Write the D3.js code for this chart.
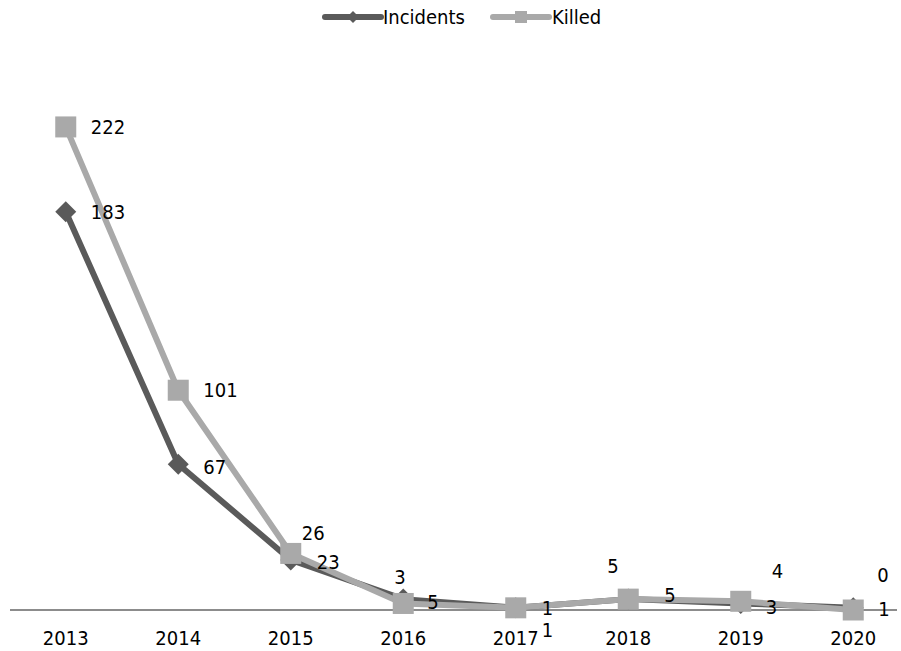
<!DOCTYPE html>
<html>
<head>
<meta charset="utf-8">
<script src="https://cdn.jsdelivr.net/npm/d3@7"></script>
<style>
  body { margin: 0; background: #fff; }
  text { font-family: "DejaVu Sans Condensed", "DejaVu Sans", sans-serif; fill: #000; }
</style>
</head>
<body>
<div id="chart"></div>
<script>
// data
var years = ["2013", "2014", "2015", "2016", "2017", "2018", "2019", "2020"];
var incidents = [183, 67, 23, 5, 1, 5, 3, 1];
var killed = [222, 101, 26, 3, 1, 5, 4, 0];

// label nudges (left edge offset from point), layout only
var incidentsLabelPos = [[25, 0], [25, 3], [26, 2], [24, 3], [26, 0], [36, -4], [25, 3], [25, 1]];
var killedLabelPos = [[25, 0], [25, 0], [11, -21], [-9, -27], [26, 22], [-21, -33], [31, -30], [24, -35]];

var svgWidth = 901;
var svgHeight = 651;

var svg = d3.select("#chart")
  .append("svg")
  .attr("width", svgWidth)
  .attr("height", svgHeight);

// scales
var xScale = d3.scaleBand()
  .domain(years)
  .range([9.5, 909.5])
  .padding(0);

var yScale = d3.scaleLinear()
  .domain([0, 250])
  .range([610, 66]);

var xc = d => xScale(d) + xScale.bandwidth() / 2;

// x axis line + labels
svg.append("line")
  .attr("x1", 10)
  .attr("x2", 897)
  .attr("y1", yScale(0))
  .attr("y2", yScale(0))
  .attr("stroke", "#8c8c8c")
  .attr("stroke-width", 2);

var xAxis = d3.axisBottom(xScale).tickSize(0).tickPadding(21);
var xAxisG = svg.append("g")
  .attr("transform", `translate(0, ${yScale(0)})`)
  .call(xAxis);
xAxisG.select(".domain").remove();
xAxisG.selectAll("text")
  .attr("font-size", 20)
  .style("font-family", "'DejaVu Sans Condensed', 'DejaVu Sans', sans-serif")
  .attr("fill", "#000");

var series = [
  { name: "Incidents", values: incidents, color: "#5a5a5a", shape: "diamond", pos: incidentsLabelPos },
  { name: "Killed", values: killed, color: "#a9a9a9", shape: "square", pos: killedLabelPos }
];

var line = d3.line()
  .x((d, i) => xc(years[i]))
  .y(d => yScale(d));

var diamond = s => `M0,${-s} L${s},0 L0,${s} L${-s},0 Z`;

series.forEach(function(s) {
  var g = svg.append("g");

  g.append("path")
    .datum(s.values)
    .attr("d", line)
    .attr("fill", "none")
    .attr("stroke", s.color)
    .attr("stroke-width", 6)
    .attr("stroke-linejoin", "round");

  if (s.shape === "diamond") {
    g.selectAll(".pt")
      .data(s.values)
      .enter()
      .append("path")
      .attr("transform", (d, i) => `translate(${xc(years[i])}, ${yScale(d)})`)
      .attr("d", diamond(10.5))
      .attr("fill", s.color);
  } else {
    g.selectAll(".pt")
      .data(s.values)
      .enter()
      .append("rect")
      .attr("x", (d, i) => xc(years[i]) - 10.5)
      .attr("y", d => yScale(d) - 10.5)
      .attr("width", 21)
      .attr("height", 21)
      .attr("fill", s.color);
  }
});

// data labels on top
series.forEach(function(s) {
  svg.append("g")
    .selectAll("text")
    .data(s.values)
    .enter()
    .append("text")
    .attr("x", (d, i) => xc(years[i]) + s.pos[i][0])
    .attr("y", (d, i) => yScale(d) + s.pos[i][1])
    .attr("dy", "0.36em")
    .attr("font-size", 20)
    .text(d => d);
});

// legend
var legend = svg.append("g");
var legendItems = [
  { x: 325, textX: 383 },
  { x: 493, textX: 552 }
];
series.forEach(function(s, i) {
  var lx = legendItems[i].x;
  legend.append("line")
    .attr("x1", lx).attr("x2", lx + 56)
    .attr("y1", 17).attr("y2", 17)
    .attr("stroke", s.color)
    .attr("stroke-width", 6)
    .attr("stroke-linecap", "round");
  if (s.shape === "diamond") {
    legend.append("path")
      .attr("transform", `translate(${lx + 28}, 17)`)
      .attr("d", diamond(6))
      .attr("fill", s.color);
  } else {
    legend.append("rect")
      .attr("x", lx + 22).attr("y", 11)
      .attr("width", 12).attr("height", 12)
      .attr("fill", s.color);
  }
  legend.append("text")
    .attr("x", legendItems[i].textX)
    .attr("y", 17)
    .attr("dy", "0.36em")
    .attr("font-size", 20)
    .text(s.name);
});
</script>
</body>
</html>
